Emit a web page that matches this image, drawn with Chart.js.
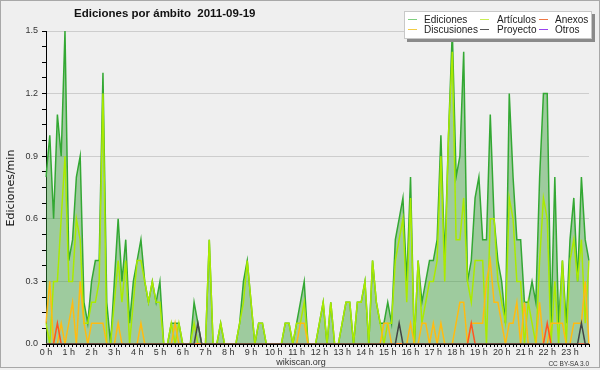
<!DOCTYPE html>
<html><head><meta charset="utf-8">
<script src="https://cdn.jsdelivr.net/npm/chart.js@4"></script>
<style>
html,body{margin:0;padding:0;background:#efefef;}
#wrap{position:relative;width:600px;height:370px;background:#efefef;font-family:"Liberation Sans",Arial,sans-serif;color:#222;overflow:hidden;}
#frame{position:absolute;left:0;top:0;width:598px;height:366px;border:1px solid #a8a8a8;pointer-events:none;}
canvas{position:absolute;left:0;top:0;}
#title{position:absolute;left:74px;top:7px;font-weight:bold;font-size:11.5px;line-height:12px;white-space:pre;color:#111;}
#legend{position:absolute;left:404px;top:11px;width:186px;height:26px;background:#fff;border:1px solid #c8c8c8;box-shadow:3px 3px 0 #8a8a8a;}
.sw{position:absolute;width:9px;height:1px;}
.lt{position:absolute;font-size:10px;line-height:10px;white-space:nowrap;color:#222;}
#ylab{position:absolute;left:9.5px;top:188px;transform:translate(-50%,-50%) rotate(-90deg);font-family:"DejaVu Sans",sans-serif;font-size:11px;white-space:nowrap;color:#111;}
#xlab{position:absolute;left:301px;top:361.5px;transform:translate(-50%,-50%);font-size:9px;white-space:nowrap;color:#333;}
#lic{position:absolute;right:11px;top:362.5px;transform:translateY(-50%);font-size:6.5px;white-space:nowrap;color:#333;}
</style>
</head><body>
<div id="wrap">
<canvas id="c" width="600" height="370"></canvas>
<div id="frame"></div>
<div id="title">Ediciones por ámbito  2011-09-19</div>
<div id="legend"></div>
<div id="ylab">Ediciones/min</div>
<div id="xlab">wikiscan.org</div>
<div id="lic">CC BY-SA 3.0</div>
</div>
<script>
// tick labels for the hours
const hourLabels = ['0 h','1 h','2 h','3 h','4 h','5 h','6 h','7 h','8 h','9 h','10 h','11 h',
  '12 h','13 h','14 h','15 h','16 h','17 h','18 h','19 h','20 h','21 h','22 h','23 h'];
// categories: 10-minute slots of the day
const times = [];
for (let h = 0; h < 24; h++) for (let m = 0; m < 60; m += 10) times.push(String(h).padStart(2,'0') + ':' + String(m).padStart(2,'0'));

// series values (edits per minute, one value per 10-minute slot)
const ediciones = [
  0.8,1.0,0.6,1.1,0.9,1.5,0.4,0.5,0.8,0.9,0.2,0.1,
  0.3,0.4,0.4,1.3,0.2,0,0.3,0.6,0.3,0.5,0.1,0.3,
  0.4,0.5,0.3,0.2,0.3,0.2,0.3,0,0,0.1,0.1,0.1,
  0,0,0,0.2,0.1,0,0,0.5,0,0,0.1,0,
  0,0,0,0.1,0.3,0.4,0.2,0,0.1,0.1,0,0,
  0,0,0,0.1,0.1,0,0.1,0.2,0.3,0,0,0,
  0.1,0.2,0,0.2,0,0,0.1,0.2,0.2,0,0.2,0.2,
  0.3,0,0.4,0.2,0.1,0.1,0.2,0.1,0.5,0.6,0.7,0.3,
  0.8,0,0.4,0.2,0.3,0.4,0.4,0.5,1.0,0.4,1.0,1.5,
  0.8,0.9,1.4,0.3,0.4,0.7,0.8,0.5,0.5,1.1,0.6,0.4,
  0.3,0.1,1.2,0.8,0.5,0.5,0.2,0.2,0.3,0.2,0.8,1.2,
  1.2,0.1,0.8,0.1,0.4,0.1,0.5,0.7,0.3,0.8,0.5,0.4
];
const articulos = [
  0.1,0,0.3,0.3,0.6,0.9,0.3,0.3,0.6,0.5,0.1,0.1,
  0.2,0.2,0.3,1.2,0,0,0.2,0.4,0.2,0.4,0,0.2,
  0.4,0.4,0.3,0.2,0.3,0.2,0.2,0,0,0.1,0,0.1,
  0,0,0,0.1,0,0,0,0.5,0,0,0.1,0,
  0,0,0,0.1,0.2,0.4,0.2,0,0.1,0.1,0,0,
  0,0,0,0.1,0.1,0,0.1,0.1,0.2,0,0,0,
  0.1,0.2,0,0.2,0,0,0.1,0.2,0.2,0,0.2,0.2,
  0.3,0,0.4,0.2,0.1,0,0.1,0.1,0.4,0.5,0.6,0.2,
  0.7,0,0.4,0.1,0.2,0.3,0.3,0.4,0.9,0.3,1.0,1.4,
  0.5,0.5,0.7,0.3,0.2,0.4,0.4,0.4,0,0.6,0.6,0.3,
  0.2,0.1,0.7,0.6,0.3,0.3,0,0.2,0.1,0,0.4,0.7,
  0.6,0,0.3,0,0.4,0,0.4,0.5,0.3,0.5,0.1,0.4
];
const discusiones = [
  0.1,0.3,0,0,0.1,0,0.1,0.2,0,0.3,0.1,0,
  0.1,0.1,0.1,0.1,0,0,0,0.1,0,0,0,0,
  0,0.1,0,0,0,0,0,0,0,0,0.1,0,
  0,0,0,0,0,0,0,0,0,0,0,0,
  0,0,0,0,0,0,0,0,0,0,0,0,
  0,0,0,0,0,0,0,0.1,0.1,0,0,0,
  0,0,0,0,0,0,0,0,0,0,0,0,
  0,0,0,0,0,0.1,0.1,0,0,0,0,0,
  0.1,0,0,0.1,0.1,0,0.1,0,0.1,0,0,0,
  0.1,0.2,0.2,0,0.1,0.1,0.1,0.1,0.3,0.4,0.2,0.2,
  0.1,0,0.1,0.1,0.2,0,0.2,0,0,0,0.2,0,
  0,0.1,0.1,0.1,0.1,0,0,0.1,0.1,0.1,0.3,0
];
const anexos = [
  0,0,0,0.1,0,0,0,0,0,0,0,0,
  0,0,0,0,0,0,0,0,0,0,0,0,
  0,0,0,0,0,0,0,0,0,0,0,0,
  0,0,0,0,0,0,0,0,0,0,0,0,
  0,0,0,0,0,0,0,0,0,0,0,0,
  0,0,0,0,0,0,0,0,0,0,0,0,
  0,0,0,0,0,0,0,0,0,0,0,0,
  0,0,0,0,0,0,0,0,0,0,0,0,
  0,0,0,0,0,0,0,0,0,0,0,0,
  0,0,0,0,0.1,0,0,0,0,0,0,0,
  0,0,0,0,0,0,0,0,0,0,0,0,
  0.1,0,0,0,0,0,0,0,0,0,0,0
];
const proyecto = [
  0,0,0,0,0,0,0,0,0,0,0,0,
  0,0,0,0,0,0,0,0,0,0,0,0,
  0,0,0,0,0,0,0,0,0,0,0,0,
  0,0,0,0,0.1,0,0,0,0,0,0,0,
  0,0,0,0,0,0,0,0,0,0,0,0,
  0,0,0,0,0,0,0,0,0,0,0,0,
  0,0,0,0,0,0,0,0,0,0,0,0,
  0,0,0,0,0,0,0,0,0,0.1,0,0,
  0,0,0,0,0,0,0,0,0,0,0,0,
  0,0,0,0,0,0,0,0,0,0,0,0,
  0,0,0,0,0,0,0,0,0,0,0,0,
  0,0,0,0,0,0,0,0,0,0.1,0,0
];
const otros = [
  0,0,0,0,0,0,0,0,0,0,0,0, 0,0,0,0,0,0,0,0,0,0,0,0,
  0,0,0,0,0,0,0,0,0,0,0,0, 0,0,0,0,0,0,0,0,0,0,0,0,
  0,0,0,0,0,0,0,0,0,0,0,0, 0,0,0,0,0,0,0,0,0,0,0,0,
  0,0,0,0,0,0,0,0,0,0,0,0, 0,0,0,0,0,0,0,0,0,0,0,0,
  0,0,0,0,0,0,0,0,0,0,0,0, 0,0,0,0,0,0,0,0,0,0,0,0,
  0,0,0,0,0,0,0,0,0,0,0,0, 0,0,0,0,0,0,0,0,0,0,0,0
];

const seriesNames = ['Ediciones','Artículos','Anexos','Discusiones','Proyecto','Otros'];

const series = [
  {label:'Ediciones', data:ediciones, line:'#33a833', key:'#7fcf7f', order:6, fill:'origin', bg:'rgba(60,160,60,0.45)'},
  {label:'Artículos', data:articulos, line:'#aaea00', key:'#c8ee55', order:5},
  {label:'Discusiones', data:discusiones, line:'#ffbb11', key:'#f2cc44', order:4},
  {label:'Anexos', data:anexos, line:'#ff5522', key:'#ee7744', order:3},
  {label:'Proyecto', data:proyecto, line:'#444444', key:'#555555', order:2},
  {label:'Otros', data:otros, line:'#9933ee', key:'#9944ee', order:7}
];

Chart.defaults.font.family = '"Liberation Sans", Arial, sans-serif';
const isMajor = v => Math.abs(v / 0.3 - Math.round(v / 0.3)) < 1e-6;

new Chart(document.getElementById('c'), {
  type: 'line',
  data: {
    labels: times,
    datasets: series.map(s => ({
      label: s.label, data: s.data, borderColor: s.line,
      backgroundColor: s.bg || s.line, fill: s.fill || false,
      borderWidth: 1.5, pointRadius: 0, tension: 0, order: s.order
    }))
  },
  options: {
    responsive: false, animation: false, devicePixelRatio: 1,
    layout: {padding: {left: 0, right: 11, top: 31, bottom: 0}},
    plugins: {legend: {display: false}, title: {display: false}, tooltip: {enabled: false}},
    scales: {
      x: {
        type: 'category', z: 1,
        grid: {display: true, drawOnChartArea: false, tickLength: 3, tickColor: '#000'},
        border: {color: '#000', width: 1},
        ticks: {autoSkip: false, maxRotation: 0, minRotation: 0, padding: 0, color: '#333',
          font: {size: 9}, callback: (v, i) => (i % 6 === 0 ? hourLabels[i / 6] : '')},
        afterFit: s => { s.height = 26; }
      },
      y: {
        min: 0, max: 1.5,
        grid: {color: c => (isMajor(c.tick.value) ? '#cdcdcd' : 'rgba(0,0,0,0)'), tickColor: '#000', tickLength: 4},
        border: {color: '#000', width: 1},
        ticks: {stepSize: 0.075, autoSkip: false, padding: 4, color: '#333', font: {size: 9},
          callback: v => (isMajor(v) ? v.toFixed(1) : '')},
        afterFit: s => { s.width = 46; }
      }
    }
  }
});

// legend (3 columns x 2 rows, column-major like the original)
const leg = document.getElementById('legend');
const pos = [[3,19,7.5],[75,92,7.5],[134,150,7.5],[3,19,17.5],[75,92,17.5],[134,150,17.5]];
seriesNames.forEach((name, k) => {
  const s = series.find(d => d.label === name);
  const [sx, tx, cy] = pos[k];
  const sw = document.createElement('div');
  sw.className = 'sw'; sw.style.left = sx + 'px'; sw.style.top = (cy - 0.5) + 'px'; sw.style.background = s.key;
  const t = document.createElement('div');
  t.className = 'lt'; t.style.left = tx + 'px'; t.style.top = (cy - 5) + 'px'; t.textContent = name;
  leg.appendChild(sw); leg.appendChild(t);
});
</script>
</body></html>
